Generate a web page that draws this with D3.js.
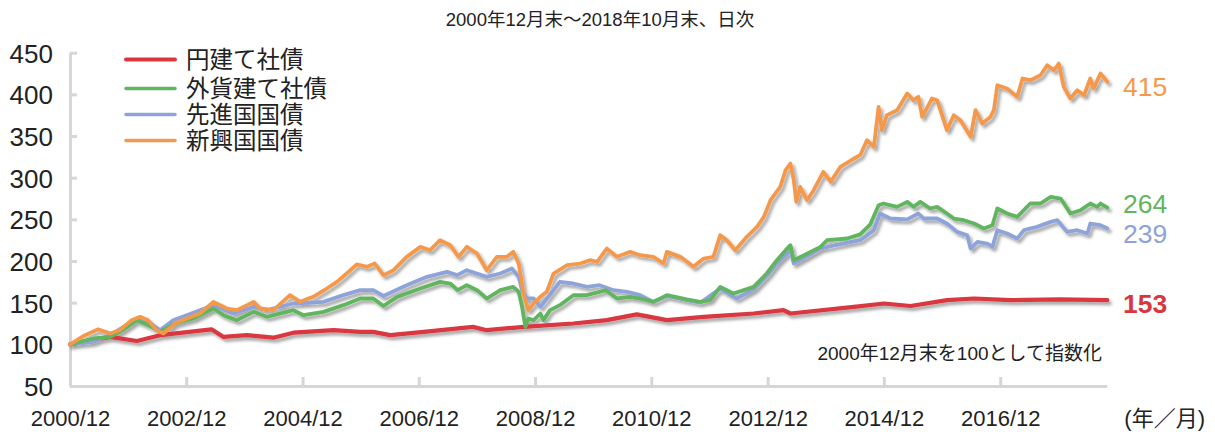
<!DOCTYPE html>
<html><head><meta charset="utf-8">
<script src="https://cdn.jsdelivr.net/npm/d3@7"></script>
<style>
html,body{margin:0;padding:0;background:#fff;}
text{font-family:"Liberation Sans","Noto Sans CJK JP",sans-serif;}
</style></head>
<body><svg id="c" width="1215" height="432"></svg>
<script>
// months since end of Dec 2000, index value
const yenCorp = [[0,100],[8.3,109],[13.8,104],[18.6,111],[29.2,118],[31.6,109],[36.5,111],[42.0,108],[46.1,114],[54.4,117],[59.9,115],[62.6,115],[66.1,111],[73.0,115],[83.2,121],[86.0,117],[93.6,121],[103.9,125],[110.8,129],[117.0,136],[123.2,129],[130.8,133],[141.1,137],[147.3,141],[148.7,137],[161.8,145],[168.0,149],[173.5,146],[181.0,153],[186.6,155],[194.1,153],[204.4,154],[214.1,153]];
const fxCorp = [[0,100],[4.8,107],[8.3,109],[10.3,115],[13.8,129],[16.2,123],[18.6,115],[21.7,125],[25.5,131],[29.6,143],[31.7,135],[34.4,129],[37.9,139],[40.6,133],[46.1,141],[48.2,135],[52.3,139],[56.4,147],[59.9,155],[62.6,155],[64.7,146],[67.5,157],[72.3,167],[76.4,175],[78.5,173],[80.0,165],[81.9,171],[84.0,165],[86.0,155],[88.8,165],[91.5,169],[92.6,163],[93.3,145],[94.0,121],[94.6,131],[95.7,129],[97.1,137],[97.7,129],[99.1,141],[101.1,147],[103.9,159],[106.6,159],[109.3,163],[110.6,165],[112.9,155],[115.6,157],[117.7,155],[120.4,151],[123.2,159],[127.3,154],[130.1,151],[132.1,153],[134.2,169],[136.9,161],[141.1,169],[143.8,185],[145.9,201],[147.7,213],[148.7,219],[149.4,201],[151.5,207],[154.9,217],[156.3,225],[160.4,227],[163.1,232],[165.2,244],[166.9,267],[167.9,269],[170.7,265],[172.8,271],[174.1,265],[175.5,271],[177.5,263],[179.0,265],[181.0,257],[182.4,251],[184.5,249],[186.6,245],[188.6,239],[190.4,243],[191.4,263],[193.4,257],[195.5,253],[198.2,269],[200.3,269],[202.4,277],[204.5,275],[206.5,257],[208.6,261],[210.6,269],[212.0,265],[212.7,269],[214.1,264]];
const devGov = [[0,100],[4.8,103],[8.3,111],[13.8,131],[16.2,127],[18.6,117],[21.3,129],[29.6,147],[33.7,137],[37.9,145],[40.6,141],[46.1,149],[52.3,151],[56.4,159],[59.9,165],[62.6,165],[64.7,158],[69.5,171],[73.7,181],[77.8,187],[79.9,183],[81.9,189],[86.0,181],[88.8,185],[91.2,191],[92.6,181],[93.3,165],[94.3,155],[95.7,155],[97.1,145],[99.8,165],[101.1,175],[103.9,173],[106.7,169],[109.3,171],[112.2,165],[115.0,163],[117.7,159],[120.4,151],[123.2,158],[127.3,153],[130.1,150],[134.2,167],[137.6,155],[141.1,166],[143.8,182],[145.9,197],[148.7,213],[149.4,197],[154.9,215],[160.4,222],[163.1,225],[165.9,237],[167.2,257],[169.3,251],[172.8,250],[175.1,257],[176.2,251],[179.0,251],[181.0,245],[183.1,235],[185.2,231],[185.9,215],[187.3,223],[189.3,221],[190.4,217],[191.4,237],[193.4,233],[195.5,227],[196.9,237],[199.6,241],[202.4,247],[203.8,249],[205.8,235],[207.9,237],[210.0,233],[210.6,245],[212.7,243],[214.1,239]];
const emGov = [[0,100],[3.1,111],[5.8,118],[8.3,113],[10.3,117],[12.7,129],[14.5,133],[16.1,129],[17.9,117],[19.3,113],[21.7,125],[24.1,131],[26.8,137],[29.6,151],[32.4,143],[34.4,141],[37.9,151],[39.2,143],[42.0,141],[45.4,159],[47.5,151],[50.2,157],[53.0,167],[55.1,175],[57.1,185],[59.2,196],[61.3,193],[62.9,197],[64.7,183],[66.8,189],[69.5,205],[72.3,217],[74.3,213],[76.4,225],[78.5,219],[80.2,205],[81.9,217],[84.0,209],[86.0,189],[88.1,205],[90.2,205],[91.5,211],[92.6,197],[93.6,161],[94.6,141],[95.7,149],[97.1,157],[98.4,163],[99.8,185],[102.6,195],[105.3,197],[107.4,201],[108.8,199],[110.8,215],[112.9,205],[115.6,211],[117.7,207],[120.4,205],[122.5,197],[123.2,211],[126.0,205],[128.7,193],[130.8,203],[132.8,205],[134.2,231],[135.6,225],[137.3,213],[139.7,229],[141.8,241],[143.2,253],[144.6,273],[146.6,289],[147.7,309],[148.7,317],[149.4,297],[149.9,271],[150.7,289],[152.1,273],[153.5,285],[155.5,307],[157.0,295],[159.0,313],[161.8,323],[163.1,327],[164.5,345],[165.9,337],[166.9,385],[167.6,357],[168.6,375],[170.7,381],[172.8,401],[174.1,393],[175.1,397],[175.9,373],[177.9,395],[179.0,393],[181.0,357],[182.4,375],[183.8,369],[185.9,349],[186.9,381],[188.3,365],[190.0,373],[190.7,381],[191.4,411],[193.4,407],[195.5,397],[196.6,419],[198.2,417],[200.3,423],[201.7,435],[203.1,429],[204.1,437],[205.1,409],[206.5,395],[207.9,405],[209.3,399],[210.6,419],[211.3,407],[212.7,425],[214.1,415]];

const seriesNames = ["円建て社債","外貨建て社債","先進国国債","新興国国債"];
const seriesColors = ["#d9373f","#62b55f","#8ea3d9","#f4994b"];
const endLabels = ["153","264","239","415"];
const yTicks = [50,100,150,200,250,300,350,400,450];
const xTickLabels = ["2000/12","2002/12","2004/12","2006/12","2008/12","2010/12","2012/12","2014/12","2016/12"];
const titleText = "2000年12月末～2018年10月末、日次";
const noteText = "2000年12月末を100として指数化";
const unitText = "(年／月)";

const allSeries = [yenCorp, fxCorp, devGov, emGov];
const base = new Date(2000, 11, 31);
const toDate = m => new Date(2000, 11, 31 + Math.round(m * 30.4375));
const parseTick = s => { const [y, m] = s.split("/").map(Number); return new Date(y, m, 0); };

const svg = d3.select("#c");
const x = d3.scaleTime().domain([base, new Date(2018, 9, 31)]).range([70, 1106.7]);
const y = d3.scaleLinear().domain([50, 450]).range([386, 52.7]);

const defs = svg.append("defs");
const f = defs.append("filter").attr("id", "sh").attr("x", "-5%").attr("y", "-10%").attr("width", "110%").attr("height", "130%");
f.append("feDropShadow").attr("dx", 2.5).attr("dy", 3).attr("stdDeviation", 1.6).attr("flood-color", "#000").attr("flood-opacity", 0.35);

// title
svg.append("text").attr("x", 600).attr("y", 26).attr("text-anchor", "middle")
  .attr("font-size", 18.5).attr("fill", "#222").text(titleText);

// axes
const axisColor = "#d6d6d6";
const yAxis = d3.axisLeft(y).tickValues(yTicks).tickSize(-7).tickPadding(17).tickSizeOuter(0);
const gy = svg.append("g").attr("transform", "translate(70,0)").call(yAxis);
gy.select(".domain").attr("stroke", axisColor).attr("stroke-width", 3);
gy.selectAll(".tick line").attr("stroke", axisColor).attr("stroke-width", 3);
gy.selectAll(".tick text").attr("font-size", 26).attr("fill", "#222").attr("dy", "0.36em")
  .attr("font-family", "Liberation Sans, sans-serif");

const xAxis = d3.axisBottom(x).tickValues(xTickLabels.map(parseTick))
  .tickFormat((d, i) => xTickLabels[i]).tickSize(-9).tickPadding(24).tickSizeOuter(0);
const gx = svg.append("g").attr("transform", "translate(0,386)").call(xAxis);
gx.select(".domain").attr("stroke", axisColor).attr("stroke-width", 3);
gx.selectAll(".tick line").attr("stroke", axisColor).attr("stroke-width", 3);
gx.selectAll(".tick text").attr("font-size", 22).attr("fill", "#222")
  .attr("font-family", "Liberation Sans, sans-serif");

// lines
const line = d3.line().x(d => x(toDate(d[0]))).y(d => y(d[1])).curve(d3.curveLinear);
const order = [0, 2, 1, 3];
const lg = svg.append("g").attr("filter", "url(#sh)");
order.forEach(i => {
  lg.append("path").datum(allSeries[i]).attr("d", line).attr("fill", "none")
    .attr("stroke", seriesColors[i]).attr("stroke-width", i === 0 ? 4.2 : 3.8)
    .attr("stroke-linejoin", "round").attr("stroke-linecap", "round");
});

// end labels
const endY = [303, 203.5, 233.5, 86];
allSeries.forEach((s, i) => {
  svg.append("text").attr("x", 1123).attr("y", endY[i]).attr("dy", "0.36em")
    .attr("font-size", 26.5).attr("font-weight", i === 0 ? "bold" : "normal")
    .attr("fill", seriesColors[i]).text(endLabels[i]);
});

// legend
const legY = [59.5, 88.5, 114.5, 140.5];
seriesNames.forEach((n, i) => {
  svg.append("line").attr("x1", 126).attr("x2", 175).attr("y1", legY[i]).attr("y2", legY[i])
    .attr("stroke", seriesColors[i]).attr("stroke-width", i === 0 ? 4 : 3.5).attr("stroke-linecap", "round");
  svg.append("text").attr("x", 186).attr("y", legY[i]).attr("dy", "0.36em")
    .attr("font-size", 23.5).attr("fill", "#222").text(n);
});

// note and unit
svg.append("text").attr("x", 1102).attr("y", 353).attr("dy", "0.36em").attr("text-anchor", "end")
  .attr("font-size", 19).attr("fill", "#222").text(noteText);
svg.append("text").attr("x", 1205).attr("y", 418).attr("dy", "0.36em").attr("text-anchor", "end")
  .attr("font-size", 22).attr("fill", "#222").text(unitText);
</script></body></html>
